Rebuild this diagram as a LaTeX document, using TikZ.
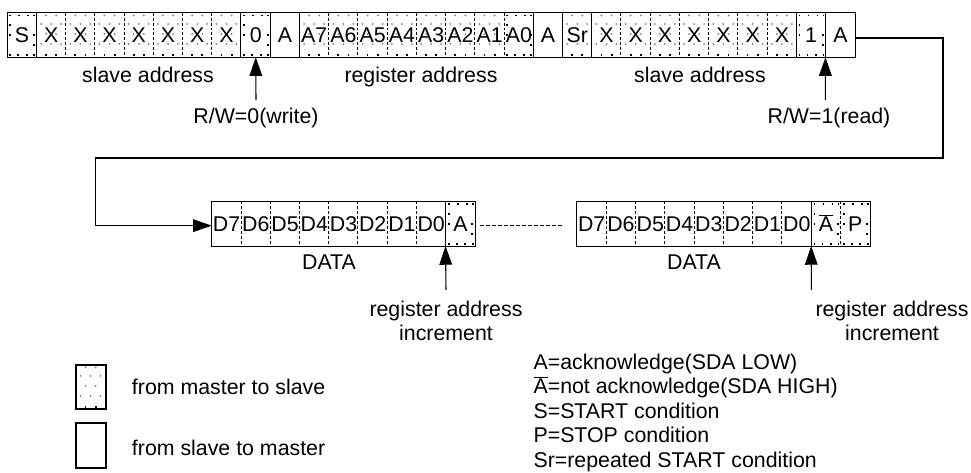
\documentclass[tikz,border=0pt]{standalone}
\usepackage{fontspec}
\setmainfont{Liberation Sans}
\usetikzlibrary{arrows.meta}
\newcommand\Abar{\ensuremath{\overline{\mbox{A}}}}
\newcommand\mydotsgray[2]{%
  \foreach \dx in {4.5,14.6,24.5}{\fill[black!50] ({#1+\dx},{#2+11}) circle (0.75pt); \fill[black!50] ({#1+\dx},{#2+31}) circle (0.75pt);}%
  \foreach \dx in {9.5,19.7}{\fill[black!50] ({#1+\dx},{#2+21}) circle (0.75pt); \fill[black!50] ({#1+\dx},{#2+2.5}) circle (0.75pt); \fill[black] ({#1+\dx-0.9},{#2+41.2}) rectangle ({#1+\dx+0.9},{#2+43});}%
}
\newcommand\mydotsblack[2]{%
  \foreach \dx/\dy in {3/2.5,12/2.5,21/2.5,27/2.5,3/42,11/42,19.5/42,27/42,3/22,26.5/22,3/12,26.5/32}{\fill ({#1+\dx-0.9},{#2+\dy-0.9}) rectangle ({#1+\dx+0.9},{#2+\dy+0.9});}%
}
\begin{document}
\begin{tikzpicture}[x=0.75pt,y=-0.75pt,
  every node/.style={font=\fontsize{16pt}{18.4pt}\selectfont, inner sep=0pt},
  cell/.style={minimum width=21.92pt, minimum height=33pt, text height=11.5pt, text depth=0pt},
  lab/.style={text height=11.5pt, text depth=3.4pt},
  frame/.style={line width=0.8pt},
  sep/.style={line width=0.6pt, dash pattern=on 2.2pt off 1.5pt},
  arr/.style={line width=0.8pt, -{Triangle[length=14pt,width=9.5pt]}}]
\useasboundingbox (0,0) rectangle (971,473);

% ---------- dot textures ----------
\foreach \k in {1,2,3,4,5,6,7,10,11,12,13,14,15,16,19,20,21,22,23,24,25,26} {\mydotsgray{7.3+\k*29.23}{13}}
\foreach \k in {0,8,17,27} {\mydotsblack{7.3+\k*29.23}{13}}
\mydotsblack{212+8*29.22}{201.7}
\mydotsblack{577+8*29.3}{201.7}
\mydotsblack{577+9*29.3}{201.7}
\mydotsgray{76}{365}

% ---------- top row ----------
\foreach \lab [count=\i from 0] in {S,X,X,X,X,X,X,X,0,A,A7,A6,A5,A4,A3,A2,A1,A0,A,Sr,X,X,X,X,X,X,X,1,A}
  \node[cell] (t\i) at ({7.3+(\i+0.5)*29.23},35) {\lab};
\draw[frame] (t0.north west) rectangle (t28.south east);
\foreach \k in {1,8,9,10,18,19,20,27,28}
  \draw[frame] (t\k.north west) -- (t\k.south west);
\foreach \k in {2,3,4,5,6,7,11,12,13,14,15,16,17,21,22,23,24,25,26}
  \draw[sep] (t\k.north west) -- (t\k.south west);

% ---------- data row 1 ----------
\foreach \lab [count=\i from 0] in {D7,D6,D5,D4,D3,D2,D1,D0,A}
  \node[cell] (d\i) at ({212+(\i+0.5)*29.22},223.8) {\lab};
\draw[frame] (d0.north west) rectangle (d8.south east);
\draw[frame] (d8.north west) -- (d8.south west);
\foreach \k in {1,2,3,4,5,6,7}
  \draw[sep] (d\k.north west) -- (d\k.south west);

% ---------- data row 2 ----------
\foreach \lab [count=\i from 0] in {D7,D6,D5,D4,D3,D2,D1,D0,\Abar,P}
  \node[cell] (e\i) at ({577+(\i+0.5)*29.3},223.8) {\lab};
\draw[frame] (e0.north west) rectangle (e9.south east);
\draw[frame] (e8.north west) -- (e8.south west);
\foreach \k in {1,2,3,4,5,6,7,9}
  \draw[sep] (e\k.north west) -- (e\k.south west);

% ---------- link between data rows ----------
\draw[line width=0.6pt, dash pattern=on 3pt off 1.5pt] ([xshift=3.75pt,yshift=-1.4pt]d8.east) -- ([xshift=-10.5pt,yshift=-1.4pt]e0.west);

% ---------- wrap-around connector ----------
\coordinate (k1) at (943,158);
\coordinate (k2) at (95.7,158);
\draw[arr] ([yshift=-2.25pt]t28.east) -| (k1) -- (k2) |- ([yshift=-1.4pt]d0.west);

% ---------- labels under rows ----------
\node[lab] (sa1) at (148,77) {slave address};
\node[lab] (ra) at (421,77) {register address};
\node[lab] (sa2) at (700,77) {slave address};
\node[lab] (da1) at (329,264) {DATA};
\node[lab] (da2) at (694,264) {DATA};

% ---------- R/W arrows ----------
\node[lab] (rw0) at (256,118) {R/W=0(write)};
\node[lab] (rw1) at (829,118) {R/W=1(read)};
\coordinate (w0) at (256,100);
\coordinate (w1) at (825.3,100);
\draw[arr] (w0) -- (t8.south);
\draw[arr] (w1) -- (t28.south west);

% ---------- increment arrows ----------
\coordinate (v0) at (446,290);
\coordinate (v1) at (811.4,290);
\draw[arr] (v0) -- (d8.south west);
\draw[arr] (v1) -- (e8.south west);
\node[lab] (ri1a) at (446,311) {register address};
\node[lab] (ri1b) at (446,335) {increment};
\node[lab] (ri2a) at (892,311) {register address};
\node[lab] (ri2b) at (892,335) {increment};

% ---------- left legend ----------
\node[draw, frame, minimum width=22.5pt, minimum height=33pt] (lgm) at (91,387) {};
\node[draw, frame, minimum width=22.5pt, minimum height=33.75pt] (lgs) at (91,445.5) {};
\node[lab, anchor=west] (lgmt) at (131.7,389) {from master to slave};
\node[lab, anchor=west] (lgst) at (131.7,450) {from slave to master};

% ---------- right legend ----------
\node[lab, anchor=west] (l1) at (533.3,364) {A=acknowledge(SDA LOW)};
\node[lab, anchor=west] (l2) at (533.3,388.5) {\Abar=not acknowledge(SDA HIGH)};
\node[lab, anchor=west] (l3) at (533.3,413) {S=START condition};
\node[lab, anchor=west] (l4) at (533.3,437.5) {P=STOP condition};
\node[lab, anchor=west] (l5) at (533.3,462) {Sr=repeated START condition};
\end{tikzpicture}
\end{document}
